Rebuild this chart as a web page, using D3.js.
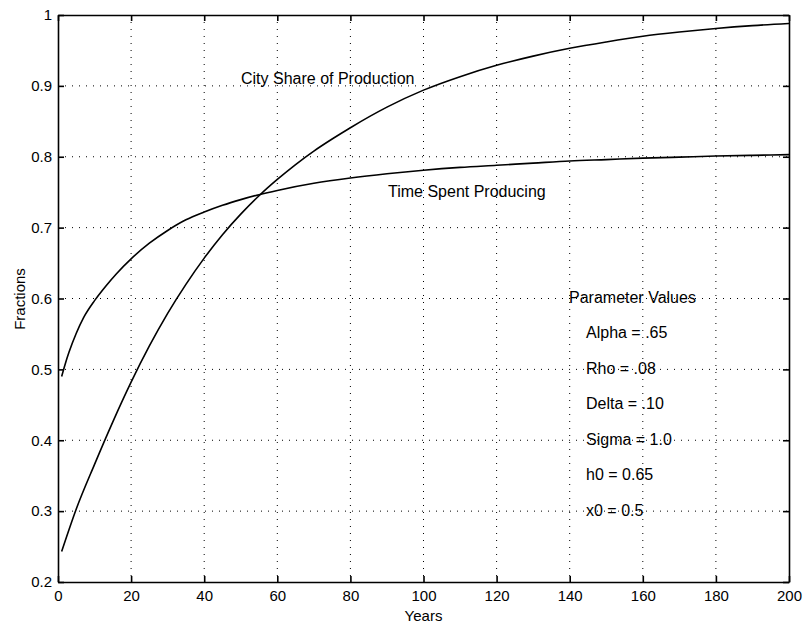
<!DOCTYPE html>
<html><head><meta charset="utf-8">
<script src="https://cdn.jsdelivr.net/npm/d3@7"></script>
<style>body{margin:0;background:#fff}svg{display:block}text{font-family:"Liberation Sans",Arial,sans-serif;fill:#000}</style>
</head><body><svg id="c" width="806" height="623"></svg>
<script>
const cityYears = [1,5,10,15,20,25,30,35,40,45,50,55,60,65,70,75,80,90,100,110,120,130,140,150,160,170,180,190,200];
const cityShare = [0.243,0.303,0.366,0.426,0.482,0.533,0.579,0.620,0.657,0.690,0.719,0.745,0.768,0.789,0.808,0.825,0.841,0.870,0.894,0.913,0.929,0.942,0.953,0.962,0.970,0.976,0.981,0.985,0.988];
const timeYears = [1,2,3,5,7,10,13,16,20,25,30,35,40,45,50,55,60,70,80,90,100,110,120,130,140,150,160,170,180,190,200];
const timeProducing = [0.490,0.508,0.524,0.551,0.573,0.597,0.617,0.635,0.656,0.678,0.696,0.711,0.722,0.7315,0.7395,0.7465,0.7525,0.7625,0.770,0.776,0.781,0.785,0.788,0.791,0.794,0.796,0.798,0.7995,0.801,0.802,0.803];
const xTicks = [0,20,40,60,80,100,120,140,160,180,200];
const yTicks = [0.2,0.3,0.4,0.5,0.6,0.7,0.8,0.9,1];
const yTickLabels = ["0.2","0.3","0.4","0.5","0.6","0.7","0.8","0.9","1"];
const paramLines = ["Alpha = .65","Rho = .08","Delta = .10","Sigma = 1.0","h0 = 0.65","x0 = 0.5"];

const svg = d3.select("#c");
const L=58, R=789, T=15, B=582;
const x = d3.scaleLinear().domain([0,200]).range([L,R]);
const y = d3.scaleLinear().domain([0.2,1]).range([B,T]);

// grid
const g = svg.append("g");
g.selectAll(".gx").data(xTicks.slice(1,-1)).join("line")
  .attr("x1",d=>x(d)).attr("x2",d=>x(d)).attr("y1",T).attr("y2",B)
  .attr("stroke","#000").attr("stroke-width",1).attr("stroke-dasharray","1,6");
g.selectAll(".gy").data(yTicks.slice(1,-1)).join("line")
  .attr("y1",d=>y(d)).attr("y2",d=>y(d)).attr("x1",L).attr("x2",R)
  .attr("stroke","#000").attr("stroke-width",1).attr("stroke-dasharray","1,6");

// axes (inward ticks)
const axB = d3.axisBottom(x).tickValues(xTicks).tickSizeInner(-6).tickSizeOuter(0).tickPadding(8);
const axL = d3.axisLeft(y).tickValues(yTicks).tickFormat((d,i)=>yTickLabels[i]).tickSizeInner(-6).tickSizeOuter(0).tickPadding(6);
const axT = d3.axisTop(x).tickValues(xTicks).tickSizeInner(-6).tickSizeOuter(0).tickFormat("");
const axR = d3.axisRight(y).tickValues(yTicks).tickSizeInner(-6).tickSizeOuter(0).tickFormat("");
function style(sel){sel.selectAll("path").attr("stroke","#000").attr("stroke-width",1.6);
  sel.selectAll("line").attr("stroke","#000").attr("stroke-width",1.6);
  sel.selectAll("text").attr("font-size",15).attr("fill","#000").style("font-family","'Liberation Sans',Arial,sans-serif");}
svg.append("g").attr("transform",`translate(0,${B})`).call(axB).call(style);
svg.append("g").attr("transform",`translate(${L},0)`).call(axL).call(style);
svg.append("g").attr("transform",`translate(0,${T})`).call(axT).call(style);
svg.append("g").attr("transform",`translate(${R},0)`).call(axR).call(style);

// curves
const cityLine = d3.line().x((d,i)=>x(cityYears[i])).y(d=>y(d)).curve(d3.curveMonotoneX);
const timeLine = d3.line().x((d,i)=>x(timeYears[i])).y(d=>y(d)).curve(d3.curveMonotoneX);
svg.append("path").attr("d",cityLine(cityShare)).attr("fill","none").attr("stroke","#000").attr("stroke-width",1.6);
svg.append("path").attr("d",timeLine(timeProducing)).attr("fill","none").attr("stroke","#000").attr("stroke-width",1.6);

// labels
svg.append("text").attr("x",(L+R)/2).attr("y",621).attr("text-anchor","middle").attr("font-size",15).text("Years");
svg.append("text").attr("transform","translate(25,299) rotate(-90)").attr("text-anchor","middle").attr("font-size",15).text("Fractions");
svg.append("text").attr("x",241).attr("y",84).attr("font-size",16).text("City Share of Production");
svg.append("text").attr("x",388).attr("y",197).attr("font-size",16).text("Time Spent Producing");
svg.append("text").attr("x",569).attr("y",303).attr("font-size",16).text("Parameter Values");
svg.selectAll(".pv").data(paramLines).join("text").attr("x",586).attr("y",(d,i)=>338+i*35.6).attr("font-size",16).text(d=>d);
</script></body></html>
